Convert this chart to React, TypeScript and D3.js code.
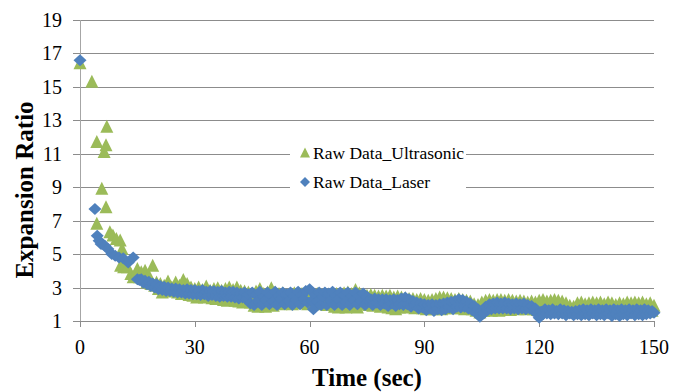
import React from "react";
import * as d3 from "d3";

// Early, irregularly timed readings (sec, ratio)
const ultrasonicEarlyTime = [0, 3.1, 4.4, 4.4, 5.7, 6.3, 6.8, 7.0, 6.8, 7.8, 8.6, 9.5, 10.5, 11.0, 10.6, 11.4, 12.4, 13.3, 13.9, 14.5];
const ultrasonicEarlyValue = [16.4, 15.3, 11.7, 6.8, 8.9, 11.1, 11.5, 12.6, 7.8, 6.3, 6.1, 5.9, 5.8, 5.3, 4.3, 4.2, 4.2, 3.8, 3.6, 3.8];

const laserEarlyTime = [0, 3.9, 4.5, 5.0, 5.5, 6.5, 7.3, 8.3, 9.2, 10.2, 11.3, 12.6, 13.9];
const laserEarlyValue = [16.6, 7.7, 6.1, 5.8, 5.6, 5.5, 5.3, 5.0, 4.9, 4.8, 4.75, 4.5, 4.8];

// Regularly sampled readings from 15 s on, one every half second
const sampleStart = 15;
const sampleStep = 0.5;

const ultrasonicValues = [
  4.1, 3.6, 3.9, 3.5, 4.0, 3.3, 3.7, 3.2, 4.3, 3.1,
  3.3, 2.9, 3.2, 2.7, 3.1, 2.8, 3.35, 2.75, 3.0, 2.9,
  3.3, 2.7, 3.1, 2.6, 3.45, 2.65, 3.2, 2.55, 3.0, 2.5,
  2.9, 2.4, 3.0, 2.5, 2.85, 2.4, 3.05, 2.45, 2.8, 2.35,
  2.9, 2.3, 2.95, 2.35, 2.8, 2.25, 2.9, 2.2, 3.0, 2.3,
  2.85, 2.2, 3.0, 2.15, 2.8, 2.1, 2.75, 2.2, 2.7, 2.1,
  2.6, 1.9, 2.75, 1.85, 2.9, 2.0, 2.6, 1.85, 2.7, 2.0,
  2.95, 1.9, 2.7, 2.1, 2.6, 2.0, 2.65, 2.1, 2.55, 2.05,
  2.6, 2.0, 2.65, 2.1, 2.55, 2.05, 2.6, 2.1, 2.7, 2.0,
  2.6, 2.1, 2.3, 2.0, 2.6, 2.05, 2.55, 2.1, 2.6, 1.95,
  2.55, 2.0, 2.65, 1.85, 2.6, 1.8, 2.55, 1.85, 2.65, 1.8,
  2.7, 1.85, 2.6, 1.9, 2.85, 1.8, 2.65, 2.0, 2.55, 2.0,
  2.5, 1.95, 2.55, 1.9, 2.5, 2.0, 2.45, 1.85, 2.5, 1.9,
  2.45, 1.8, 2.5, 1.75, 2.4, 1.7, 2.45, 1.8, 2.4, 1.85,
  2.35, 1.8, 2.3, 1.85, 2.3, 1.75, 2.25, 1.8, 2.3, 1.75,
  2.25, 1.7, 2.2, 1.75, 2.25, 1.7, 2.3, 1.75, 2.4, 1.7,
  2.4, 1.75, 2.35, 1.8, 2.3, 1.75, 2.25, 1.8, 2.3, 1.75,
  2.25, 1.7, 2.2, 1.75, 2.15, 1.7, 2.0, 1.6, 1.95, 1.5,
  2.1, 1.6, 2.2, 1.65, 2.25, 1.6, 2.2, 1.65, 2.25, 1.6,
  2.25, 1.65, 2.2, 1.7, 2.25, 1.65, 2.2, 1.75, 2.15, 1.7,
  2.2, 1.75, 2.15, 1.7, 2.1, 1.75, 2.15, 1.7, 2.1, 1.65,
  2.2, 1.65, 2.25, 1.7, 2.15, 1.65, 2.2, 1.7, 2.25, 1.65,
  2.2, 1.7, 2.15, 1.65, 2.05, 1.6, 1.9, 1.55, 1.85, 1.6,
  2.05, 1.55, 2.1, 1.6, 2.0, 1.55, 2.05, 1.6, 2.1, 1.55,
  2.05, 1.6, 2.1, 1.55, 2.0, 1.6, 2.1, 1.55, 2.05, 1.6,
  1.95, 1.55, 2.05, 1.6, 2.0, 1.55, 2.1, 1.6, 2.05, 1.55,
  2.1, 1.6, 2.05, 1.55, 2.1, 1.6, 2.0, 1.55, 2.05, 1.6,
  1.9,
];

const laserValues = [
  3.5, 3.45, 3.5, 3.3, 3.4, 3.2, 3.35, 3.1, 3.25, 3.0,
  3.2, 2.9, 3.1, 2.85, 3.05, 2.8, 3.0, 2.8, 2.95, 2.75,
  2.95, 2.7, 2.9, 2.7, 2.85, 2.65, 2.9, 2.65, 2.85, 2.6,
  2.85, 2.6, 2.8, 2.55, 2.85, 2.6, 2.75, 2.5, 2.8, 2.55,
  2.8, 2.5, 2.75, 2.45, 2.8, 2.5, 2.7, 2.45, 2.75, 2.45,
  2.75, 2.4, 2.7, 2.35, 2.65, 2.4, 2.7, 2.3, 2.6, 2.05,
  2.7, 1.95, 2.55, 2.2, 2.75, 1.95, 2.45, 2.25, 2.7, 2.0,
  2.55, 2.15, 2.75, 1.95, 2.5, 2.3, 2.7, 2.0, 2.6, 2.2,
  2.7, 1.95, 2.5, 2.25, 2.75, 2.0, 2.55, 2.3, 2.8, 2.1,
  2.9, 2.2, 1.7, 2.55, 2.15, 2.7, 1.95, 2.45, 2.7, 1.95,
  2.65, 2.2, 2.75, 1.95, 2.5, 2.3, 2.7, 1.95, 2.55, 2.15,
  2.7, 1.95, 2.5, 2.25, 2.7, 2.0, 2.5, 2.2, 2.65, 1.95,
  2.45, 2.2, 2.3, 1.95, 2.35, 2.1, 2.3, 1.95, 2.3, 2.05,
  2.3, 1.9, 2.25, 2.05, 2.3, 1.9, 2.25, 2.0, 2.35, 1.95,
  2.4, 2.0, 2.3, 1.85, 2.2, 1.95, 2.1, 1.75, 2.05, 1.8,
  2.0, 1.65, 1.95, 1.75, 2.0, 1.6, 1.95, 1.7, 2.0, 1.65,
  2.05, 1.7, 2.1, 1.8, 2.15, 1.7, 2.2, 1.85, 2.3, 1.8,
  2.25, 1.85, 2.15, 1.75, 2.05, 1.65, 1.9, 1.5, 1.7, 1.25,
  1.6, 1.45, 1.85, 1.65, 2.0, 1.7, 2.05, 1.75, 2.1, 1.75,
  2.05, 1.75, 2.1, 1.75, 2.05, 1.7, 2.0, 1.75, 2.05, 1.7,
  2.0, 1.75, 2.05, 1.7, 1.95, 1.75, 1.9, 1.6, 1.75, 1.45,
  1.2, 1.55, 1.4, 1.7, 1.45, 1.65, 1.4, 1.7, 1.45, 1.6,
  1.4, 1.7, 1.45, 1.65, 1.35, 1.6, 1.45, 1.55, 1.35, 1.6,
  1.4, 1.65, 1.35, 1.7, 1.4, 1.65, 1.35, 1.7, 1.45, 1.65,
  1.35, 1.7, 1.4, 1.65, 1.35, 1.7, 1.45, 1.65, 1.3, 1.7,
  1.4, 1.65, 1.3, 1.7, 1.4, 1.65, 1.35, 1.7, 1.45, 1.65,
  1.35, 1.7, 1.4, 1.65, 1.35, 1.7, 1.4, 1.65, 1.45, 1.6,
  1.5,
];

const yTicks = [1, 3, 5, 7, 9, 11, 13, 15, 17, 19];
const xTicks = [0, 30, 60, 90, 120, 150];

const seriesNames = ["Raw Data_Ultrasonic", "Raw Data_Laser"];
const GREEN = "#9bbb59";
const BLUE = "#4f81bd";
const FONT = "'Liberation Serif', 'Times New Roman', Times, serif";

const trianglePath = (s: number) =>
  `M0,${-s * 0.55}L${s * 0.5},${s * 0.45}L${-s * 0.5},${s * 0.45}Z`;
const diamondPath = (w: number, h: number) =>
  `M0,${-h / 2}L${w / 2},0L0,${h / 2}L${-w / 2},0Z`;

function toPoints(times: number[], values: number[], dense: number[]) {
  const pts = times.map((t, i) => ({ t, v: values[i] }));
  dense.forEach((v, i) => pts.push({ t: sampleStart + i * sampleStep, v }));
  return pts;
}

export default function App() {
  const width = 673;
  const height = 392;
  const x = d3.scaleLinear().domain([0, 150]).range([80, 654]);
  const y = d3.scaleLinear().domain([1, 19]).range([321, 20]);

  const ultrasonic = toPoints(ultrasonicEarlyTime, ultrasonicEarlyValue, ultrasonicValues);
  const laser = toPoints(laserEarlyTime, laserEarlyValue, laserValues);

  const gridColor = "#8c8c8c";
  const textStyle = { fontFamily: FONT };

  return (
    <svg
      width={width}
      height={height}
      style={{ position: "absolute", left: 0, top: 0, background: "#fff", fontFamily: FONT }}
    >
      <rect width={width} height={height} fill="#fff" />
      {/* horizontal gridlines with left tick stubs */}
      {yTicks.map((t) => (
        <line
          key={`g${t}`}
          x1={73}
          x2={x(150)}
          y1={Math.round(y(t)) + 0.5}
          y2={Math.round(y(t)) + 0.5}
          stroke={gridColor}
          strokeWidth={1}
        />
      ))}
      {/* vertical axis */}
      <line x1={x(0) + 0.5} x2={x(0) + 0.5} y1={y(19)} y2={y(1)} stroke="#a6a6a6" strokeWidth={1} />
      {/* x tick marks */}
      {xTicks.map((t) => (
        <line
          key={`xt${t}`}
          x1={Math.round(x(t)) + 0.5}
          x2={Math.round(x(t)) + 0.5}
          y1={y(1)}
          y2={y(1) + 6}
          stroke={gridColor}
          strokeWidth={1}
        />
      ))}
      {/* y tick labels */}
      {yTicks.map((t) => (
        <text key={`yl${t}`} x={62} y={y(t) + 7} textAnchor="end" fontSize={20} fill="#000" style={textStyle}>
          {t}
        </text>
      ))}
      {/* x tick labels */}
      {xTicks.map((t) => (
        <text key={`xl${t}`} x={x(t)} y={354} textAnchor="middle" fontSize={20} fill="#000" style={textStyle}>
          {t}
        </text>
      ))}
      {/* axis titles */}
      <text x={367} y={386} textAnchor="middle" fontSize={25} fontWeight="bold" fill="#000" style={textStyle}>
        Time (sec)
      </text>
      <text
        transform={`translate(33,190) rotate(-90)`}
        textAnchor="middle"
        fontSize={25}
        fontWeight="bold"
        fill="#000"
        style={textStyle}
      >
        Expansion Ratio
      </text>

      {/* ultrasonic series */}
      <g fill={GREEN}>
        {ultrasonic.map((p, i) => (
          <path key={`u${i}`} d={trianglePath(13)} transform={`translate(${x(p.t)},${y(p.v)})`} />
        ))}
      </g>
      {/* laser series */}
      <g fill={BLUE}>
        {laser.map((p, i) => (
          <path key={`l${i}`} d={diamondPath(13, 12)} transform={`translate(${x(p.t)},${y(p.v)})`} />
        ))}
      </g>

      {/* legend */}
      <g>
        <rect x={290} y={139} width={176} height={60} fill="#fff" />
        <path d={trianglePath(10)} transform="translate(305,153)" fill={GREEN} />
        <text x={313} y={159} fontSize={17.5} fill="#000" style={textStyle}>
          {seriesNames[0]}
        </text>
        <path d={diamondPath(10, 10)} transform="translate(305,182)" fill={BLUE} />
        <text x={313} y={188} fontSize={17.5} fill="#000" style={textStyle}>
          {seriesNames[1]}
        </text>
      </g>
    </svg>
  );
}
